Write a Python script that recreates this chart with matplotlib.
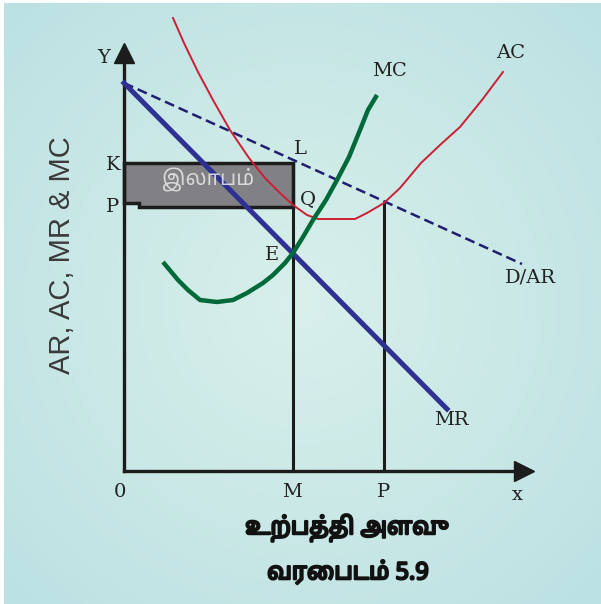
import numpy as np
import matplotlib
matplotlib.use("Agg")
import matplotlib.pyplot as plt
from matplotlib.patches import Polygon
import matplotlib.patheffects as pe

# ---- data (diagram units: origin O at the axes corner) ----
dar_x = [0, 398]
dar_y = [388, 207]
mr_x = [0, 323]
mr_y = [388, 62]
mc_x = [39, 54, 64, 76, 93, 109, 123, 139, 149, 161, 169, 179, 189, 202, 213, 225, 236, 244, 253]
mc_y = [209, 191, 181, 171, 169, 171, 178, 188, 196, 208, 218, 234, 251, 271, 291, 314, 341, 361, 376]
ac_x = [49, 60, 74, 89, 106, 125, 141, 156, 169, 183, 194, 231, 243, 260, 276, 297, 316, 336, 358, 379]
ac_y = [453, 428, 399, 371, 341, 313, 293, 278, 266, 256, 252, 252, 258, 268, 283, 308, 326, 344, 371, 399]
q_M, q_P = 169, 260          # outputs M and P
price_K, price_P = 308, 266  # price levels K and P
y_top, x_end = 428, 412      # axis ends

box_label = "இலாபம்"
xlabel_line1 = "உற்பத்தி அளவு"
xlabel_line2 = "வரைபடம் 5.9"
ylabel = "AR, AC, MR & MC"

tamil = ["Noto Sans Tamil", "Lohit Tamil", "Noto Serif Tamil", "Latha", "DejaVu Sans"]

fig = plt.figure(figsize=(6.01, 6.04), dpi=100, facecolor="white")
ax = fig.add_axes([4/601, 0, 597/601, 601/604])
ax.set_xlim(-120, 477)
ax.set_ylim(-133, 468)
ax.axis("off")

# background radial gradient
gx, gy = np.meshgrid(np.linspace(-1, 1, 300), np.linspace(-1, 1, 300))
r = np.clip(np.sqrt(gx**2 + gy**2) / 1.35, 0, 1)
c0 = np.array([0.85, 0.94, 0.92])
c1 = np.array([0.74, 0.885, 0.89])
img = c0[None, None, :] * (1 - r[..., None]) + c1[None, None, :] * r[..., None]
ax.imshow(img, extent=(-120, 477, -133, 468), aspect="auto", zorder=0)

# profit box
box = Polygon([(0, price_K), (q_M, price_K), (q_M, price_P - 2), (15, price_P - 2),
               (15, price_P + 2), (0, price_P + 2)], closed=True,
              facecolor="#808085", edgecolor="#1c1c1c", linewidth=2.5, zorder=2)
ax.add_patch(box)
ax.text(84, 291, box_label, color="#e4e4e4", fontsize=15, ha="center", va="center",
        family=tamil, zorder=6, alpha=0.9)

# verticals and axes
ax.plot([q_M, q_M], [0, price_K], color="#1c1c1c", lw=2.2, zorder=3)
ax.plot([q_P, q_P], [0, 268], color="#1c1c1c", lw=2.2, zorder=3)
ax.plot([0, 0], [0, y_top - 12], color="#1c1c1c", lw=2.4, zorder=3)
ax.plot([0, x_end - 14], [0, 0], color="#1c1c1c", lw=2.4, zorder=3)
ax.plot([0], [y_top - 10], marker="^", markersize=14, color="#1c1c1c", zorder=3)
ax.plot([x_end - 12], [0], marker=">", markersize=14, color="#1c1c1c", zorder=3)

# curves
ax.plot(dar_x, dar_y, color="#1f1f6e", lw=1.8, dashes=(4, 2), zorder=4)
ax.plot(mr_x, mr_y, color="#2e3192", lw=3.6, zorder=5)
ax.plot(ac_x, ac_y, color="#cc1f36", lw=1.4, zorder=4)
ax.plot(mc_x, mc_y, color="#00693a", lw=3.2, zorder=5, solid_capstyle="butt")

# labels
lab = dict(family="DejaVu Serif", fontsize=14, color="#222222", ha="center", va="center", zorder=6)
ax.text(-20, 413, "Y", **lab)
ax.text(-11, 306, "K", **lab)
ax.text(-11, 264, "P", **lab)
ax.text(176, 322, "L", **lab)
ax.text(184, 272, "Q", **lab)
ax.text(148, 216, "E", **lab)
ax.text(265, 400, "MC", **lab)
ax.text(387, 418, "AC", **lab)
ax.text(406, 193, "D/AR", **lab)
ax.text(327, 51, "MR", **lab)
ax.text(-4, -21, "0", **lab)
ax.text(168, -21, "M", **lab)
ax.text(260, -21, "P", **lab)
ax.text(393, -24, "x", **lab)

ax.text(-62, 216, ylabel, rotation=90, family="Liberation Sans", fontsize=21,
        color="#3a3a3a", ha="center", va="center")
bold = [pe.withStroke(linewidth=1.6, foreground="#111111")]
ax.text(223, -57, xlabel_line1, family=tamil, fontsize=17, fontweight="bold",
        color="#111111", ha="center", va="center", path_effects=bold)
ax.text(224, -102, xlabel_line2, family=tamil, fontsize=17, fontweight="bold",
        color="#111111", ha="center", va="center", path_effects=bold)

fig.savefig("out.png", dpi=100, facecolor="white")
